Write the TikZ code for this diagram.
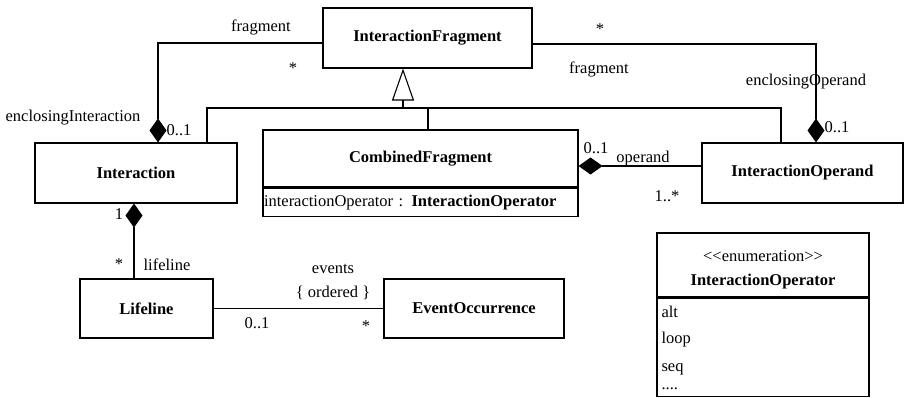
\documentclass[tikz,border=0pt]{standalone}
\usepackage{fontspec}
\setmainfont{Liberation Serif}
\usetikzlibrary{arrows.meta,calc,positioning}
\newcommand{\umlfont}{\fontsize{16.5}{19.8}\selectfont}
\newcommand{\moredots}{....}

\begin{document}
\begin{tikzpicture}[x=1pt,y=-1pt,line width=1.1pt,font=\umlfont]
\tikzstyle{class}=[draw=black,inner sep=1pt,font=\umlfont\bfseries]
\tikzstyle{lbl}=[anchor=base,inner sep=0pt]
\tikzstyle{composite}=[-{Diamond[length=24pt,width=17pt]}]
\tikzstyle{generalize}=[-{Triangle[open,length=32pt,width=22pt]}]
\useasboundingbox (0,0) rectangle (905,397);
%classes
\node[class,minimum width=209,minimum height=60] at (427.5,38) (frag){InteractionFragment};
\node[class,minimum width=202,minimum height=60] at (136,173) (inter){Interaction};
\node[class,minimum width=315,minimum height=57] at (420.5,158.5) (comb){CombinedFragment};
\node[draw,inner sep=1pt,text width=313pt,minimum height=28,align=left,below=0pt of comb] (combattr){interactionOperator : \textbf{InteractionOperator}};
\node[class,minimum width=201,minimum height=60] at (802.5,173) (oper){InteractionOperand};
\node[class,minimum width=133,minimum height=59] at (146.5,308.5) (life){Lifeline};
\node[class,minimum width=180,minimum height=59] at (474,308.5) (event){EventOccurrence};
%enumeration
\node[draw,minimum width=212,minimum height=64] at (763,265) (enumhead){};
\node[draw,minimum width=212,minimum height=98,below=0pt of enumhead] (enumbody){};
\node[lbl] at (763,261) (stereo){{<}{<}enumeration{>}{>}};
\node[lbl,font=\umlfont\bfseries] at (763,285) (enumname){InteractionOperator};
\foreach \entry/\yy [count=\i] in {alt/317,loop/343,seq/371,\moredots/389}
  \node[lbl,anchor=base west] at (661,\yy) (item\i){\entry};

%generalization
\coordinate (bus) at (403,108);
\coordinate (busL) at (207,108);
\coordinate (busC) at (428,108);
\coordinate (busR) at (781,108);
\draw[generalize] (bus) -- (bus |- frag.south);
\draw (busL |- inter.north) -- (busL) -- (busR) -- (busR |- oper.north);
\draw (busC) -- (busC |- comb.north);

%compositions
\draw[composite] ($(frag.west)+(0,5)$) -| ($(inter.north)+(22,0)$);
\draw[composite] ($(frag.east)+(0,6)$) -| ($(oper.north)+(13.5,0)$);
\coordinate (opstart) at ($(oper.west)+(0,-7)$);
\draw[composite] (opstart) -- (opstart -| comb.east);
\coordinate (lifetop) at ($(life.north)+(-12.5,0)$);
\draw[composite] (lifetop) -- (lifetop |- inter.south);
\draw (life) -- (event);

%labels
\node[lbl] at (261,31) (fragL){fragment};
\node[lbl] at (293,73) (multFragL){*};
\node[lbl] at (73,121) (enclI){enclosingInteraction};
\node[lbl] at (179,135) (multEnclI){0..1};
\node[lbl] at (600,34) (multFragR){*};
\node[lbl] at (599,73) (fragR){fragment};
\node[lbl] at (806,85) (enclO){enclosingOperand};
\node[lbl] at (837,132) (multEnclO){0..1};
\node[lbl] at (596,153) (multComb){0..1};
\node[lbl] at (643,162) (operandL){operand};
\node[lbl] at (667,201) (multOper){1..*};
\node[lbl] at (119,219) (multInter){1};
\node[lbl] at (119,269) (multLife){*};
\node[lbl] at (167,270) (lifelineL){lifeline};
\node[lbl] at (333,273) (eventsL){events};
\node[lbl] at (333,297) (orderedL){\{ ordered \}};
\node[lbl] at (257,328) (multLifeE){0..1};
\node[lbl] at (366,331) (multEvent){*};
\end{tikzpicture}
\end{document}
